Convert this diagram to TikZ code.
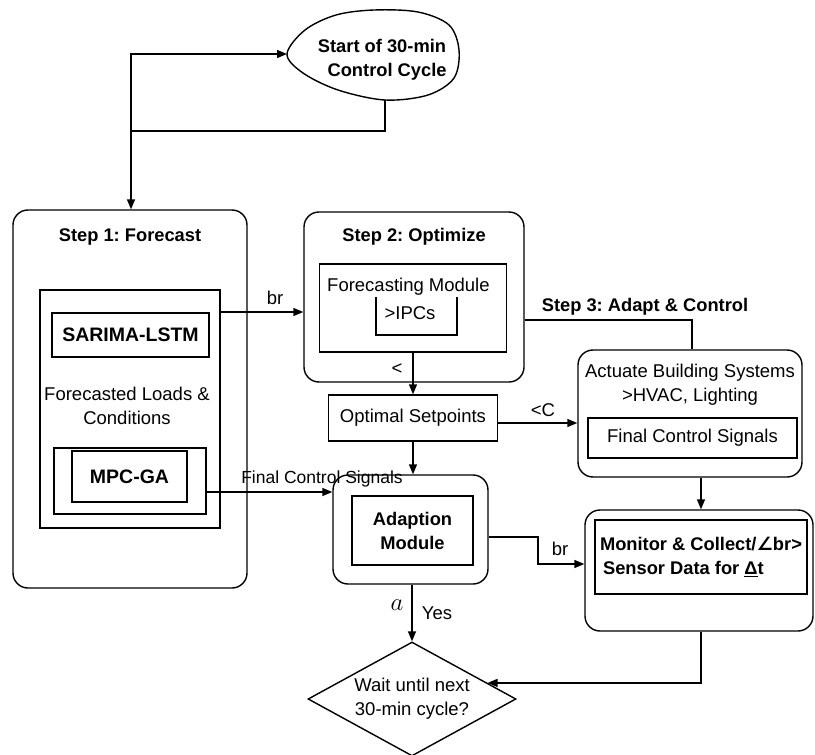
\documentclass[tikz,border=0pt]{standalone}
\usepackage{fontspec}
\setmainfont{Liberation Sans}
\newfontfamily\symfont{DejaVu Sans}
\usetikzlibrary{arrows.meta,shapes.geometric,calc}
\frenchspacing
\begin{document}
\begin{tikzpicture}[x=1pt,y=-1pt,
  every node/.style={font=\fontsize{18.5}{24}\selectfont, inner sep=0pt},
  bf/.style={font=\fontsize{18.3}{24}\selectfont\bfseries},
  box/.style={draw, line width=1.4pt, rectangle},
  rbox/.style={box, rounded corners=15pt},
  ln/.style={line width=1.4pt},
  arr/.style={line width=1.4pt, -{Triangle[length=10pt,width=8pt]}},
]
\useasboundingbox (0,0) rectangle (815,755);

% start of cycle (free-hand blob)
\draw[ln] plot[smooth cycle, tension=0.55] coordinates {
  (287,54) (305,30) (336,15) (374,10) (418,12) (449,25) (459,50)
  (454,78) (428,95) (385,100) (338,90) (303,73)};
\node[bf, align=center] (start) at (382,60) {Start of 30-min\\\ \ Control Cycle};
\coordinate (startL) at (287,54);
\coordinate (startB) at (385,100);
\coordinate (loopJ) at (131,131);

% step 1
\node[rbox, minimum width=234pt, minimum height=378pt] (step1) at (130,399) {};
\node[bf] (step1t) at (130,237) {Step 1: Forecast};
\node[box, minimum width=180pt, minimum height=238pt] (fcin) at (130,409) {};
\node[box, bf, font=\fontsize{19.5}{24}\selectfont\bfseries, minimum width=157pt, minimum height=44pt] (sarima) at (130.5,335) {SARIMA-LSTM};
\node[align=center] (loads) at (127,406) {Forecasted Loads \&\\Conditions};
\node[box, minimum width=152pt, minimum height=66pt] (mpcout) at (130,481) {};
\node[box, bf, font=\fontsize{19.5}{24}\selectfont\bfseries, minimum width=115pt, minimum height=51pt] (mpcin) at (129.5,476.5) {MPC-GA};

% step 2
\node[rbox, minimum width=220pt, minimum height=170pt] (step2) at (414,297) {};
\node[bf] (step2t) at (414,237) {Step 2: Optimize};
\node[box, minimum width=187pt, minimum height=88pt] (fmod) at (413,308) {};
\node[anchor=west] (fmodt) at (327,287) {Forecasting Module};
\draw[ln] (376,297) -- (376,335) -- (457,335) -- (457,297);
\node (ipcs) at (410,313) {>IPCs};

\node[box, minimum width=169pt, minimum height=46pt] (optsp) at (413,418) {Optimal Setpoints};

% step 3
\node[bf] (step3t) at (645,307) {Step 3: Adapt \& Control};
\node[rbox, minimum width=224pt, minimum height=127pt] (act) at (690,413.5) {};
\node[align=center] (actt) at (690,385) {Actuate Building Systems\\>HVAC, Lighting};
\node[box, minimum width=209pt, minimum height=40pt] (fcs) at (692.5,438) {Final Control Signals};

\node[rbox, minimum width=155pt, minimum height=109pt] (adapt) at (410.5,529.5) {};
\node[box, bf, align=center, minimum width=121pt, minimum height=69pt] (adaptin) at (412.5,530.5) {Adaption\\Module};

\node[rbox, minimum width=228pt, minimum height=121pt] (mon) at (699,570.5) {};
\node[box, minimum width=212pt, minimum height=74pt] (monin) at (701,557) {};
\node[bf, align=left] (mont) at (701,557) {Monitor \& Collect/{\symfont\bfseries ∠}br>\\\,Sensor Data for \underline{Δ}t};

\node[draw, diamond, aspect=1.82, line width=1.4pt, minimum width=208pt,
      minimum height=114pt, align=center] (diam) at (412,699) {Wait until next\\30-min cycle?};

% connectors
\draw[arr] (startB) -- (startB |- loopJ) -- (loopJ) -- (loopJ |- step1.north);
\draw[arr] (loopJ) |- (startL);

\coordinate (brY) at (0,312);
\draw[arr] (fcin.east |- brY) -- (step2.west |- brY);
\node (br1) at (275,298) {br};

\draw[arr] (fmod.south) -- (optsp.north);
\node (lt) at (397,369) {<};

\coordinate (s3Y) at (0,320);
\draw[ln] (step2.east |- s3Y) -| (act.north -| 692,0);

\coordinate (ocY) at (0,423);
\draw[arr] (optsp.east |- ocY) -- (act.west |- ocY);
\node (lc) at (543,410) {<C};

\draw[arr] (optsp.south) -- (optsp.south |- adapt.north);

\coordinate (fsY) at (0,492);
\draw[arr] (mpcout.east |- fsY) -- (adapt.west |- fsY);
\node[font=\fontsize{17.5}{22}\selectfont] (fsl) at (322,479) {Final Control Signals};

\coordinate (adY) at (0,537);
\coordinate (moY) at (0,564);
\draw[arr] (adapt.east |- adY) -- (538,537) -- (538,564) -- (mon.west |- moY);
\node (br2) at (560,549) {br};

\draw[arr] (act.south -| 701,0) -- (mon.north -| 701,0);

\draw[arr] (mon.south -| 701,0) |- (diam.12);

\draw[arr] (adapt.south -| diam.north) -- (diam.north);
\node[font=\fontsize{28}{28}\selectfont] (la) at (397,605) {$a$};
\node (yes) at (437,613) {Yes};
\end{tikzpicture}
\end{document}
